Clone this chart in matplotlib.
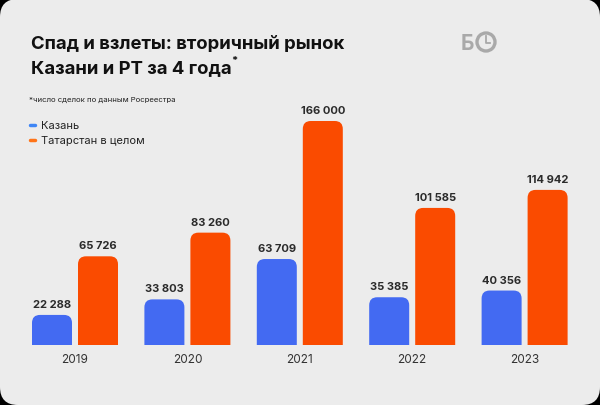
import matplotlib
matplotlib.use("Agg")
import matplotlib.pyplot as plt
from matplotlib.patches import FancyBboxPatch, PathPatch, Ellipse
from matplotlib.path import Path
from matplotlib.lines import Line2D

years = ["2019", "2020", "2021", "2022", "2023"]
kazan = [22288, 33803, 63709, 35385, 40356]
tatarstan = [65726, 83260, 166000, 101585, 114942]
labels_kazan = ["22 288", "33 803", "63 709", "35 385", "40 356"]
labels_tat = ["65 726", "83 260", "166 000", "101 585", "114 942"]

blue = "#436af2"
orange = "#fa4b00"
bg = "#ececec"
W, H = 600, 406

plt.rcParams['font.family'] = ['Inter', 'DejaVu Sans']

fig = plt.figure(figsize=(6, 4.06), dpi=100)
fig.patch.set_facecolor("black")

# rounded card
card = FancyBboxPatch((0, 0), 1, 1, boxstyle="round,pad=0,rounding_size=0.03",
                      mutation_aspect=W / H, transform=fig.transFigure,
                      facecolor=bg, edgecolor="none", zorder=-5)
fig.patches.append(card)

def fx(px):
    return px / W

def fy(py):
    return 1 - py / H

# axes: baseline at y=346 px, 166000 at y=122 px
base_px = 346
top_px = 60
ax = fig.add_axes([0, fy(base_px), 1, (base_px - top_px) / H])
ax.set_facecolor("none")
ax.axis("off")
px_per_unit = 112.4
ax.set_xlim(-75 / px_per_unit, (W - 75) / px_per_unit)
yunit_per_px = 166000 / 224
ax.set_ylim(0, (base_px - top_px) * yunit_per_px)

bw = 40 / px_per_unit
off = 23 / px_per_unit
rx = 8 / px_per_unit
ry = 8 * yunit_per_px

def rbar(x, h, color):
    # bar with rounded top corners only
    x0, x1 = x - bw / 2, x + bw / 2
    verts = [(x0, 0), (x0, h - ry), (x0, h), (x0 + rx, h), (x1 - rx, h),
             (x1, h), (x1, h - ry), (x1, 0), (x0, 0)]
    codes = [Path.MOVETO, Path.LINETO, Path.CURVE3, Path.CURVE3, Path.LINETO,
             Path.CURVE3, Path.CURVE3, Path.LINETO, Path.CLOSEPOLY]
    ax.add_patch(PathPatch(Path(verts, codes), facecolor=color, edgecolor="none"))

for i in range(len(years)):
    xb = i - off
    xo = i + off
    rbar(xb, kazan[i], blue)
    rbar(xo, tatarstan[i], orange)
    ax.text(xb, kazan[i] + 6 * yunit_per_px, labels_kazan[i], ha="center",
            va="bottom", fontsize=8, fontweight="bold", color="#2b2b2b",
            clip_on=False)
    ax.text(xo, tatarstan[i] + 6 * yunit_per_px, labels_tat[i], ha="center",
            va="bottom", fontsize=8, fontweight="bold", color="#2b2b2b",
            clip_on=False)
    ax.text(i, -14 * yunit_per_px, years[i], ha="center", va="center",
            fontsize=8.5, color="#333333", clip_on=False)

# title
fig.text(fx(31), fy(49), "Спад и взлеты: вторичный рынок", fontsize=13.3,
         fontweight="bold", color="#111111", va="baseline")
fig.text(fx(31), fy(73), "Казани и РТ за 4 года", fontsize=13.3,
         fontweight="bold", color="#111111", va="baseline")
fig.text(fx(231), fy(64), "*", fontsize=8, fontweight="bold",
         color="#111111", va="baseline")
fig.text(fx(29), fy(102), "*число сделок по данным Росреестра", fontsize=5.6,
         color="#222222", va="baseline")

# legend
for yy, col, txt in [(126, "#3f86f5", "Казань"), (141, "#ff7418", "Татарстан в целом")]:
    fig.lines.append(Line2D([fx(30), fx(35)], [fy(yy), fy(yy)], color=col, lw=2.5,
                            solid_capstyle="round", transform=fig.transFigure))
    fig.text(fx(41), fy(yy), txt, fontsize=8, color="#222222", va="center")

# logo
logo_col = "#a9a9a9"
fig.text(fx(461), fy(44), "Б", fontsize=15, fontweight="bold", color=logo_col,
         va="center", ha="left")
fig.patches.append(Ellipse((fx(486), fy(43)), 18 / W, 18 / H,
                           transform=fig.transFigure, facecolor="none",
                           edgecolor=logo_col, lw=2.4))
fig.lines.append(Line2D([fx(486), fx(486), fx(490)], [fy(37), fy(44), fy(44)],
                        color=logo_col, lw=1.3, transform=fig.transFigure))

fig.savefig("out.png", dpi=100, facecolor=fig.get_facecolor())
